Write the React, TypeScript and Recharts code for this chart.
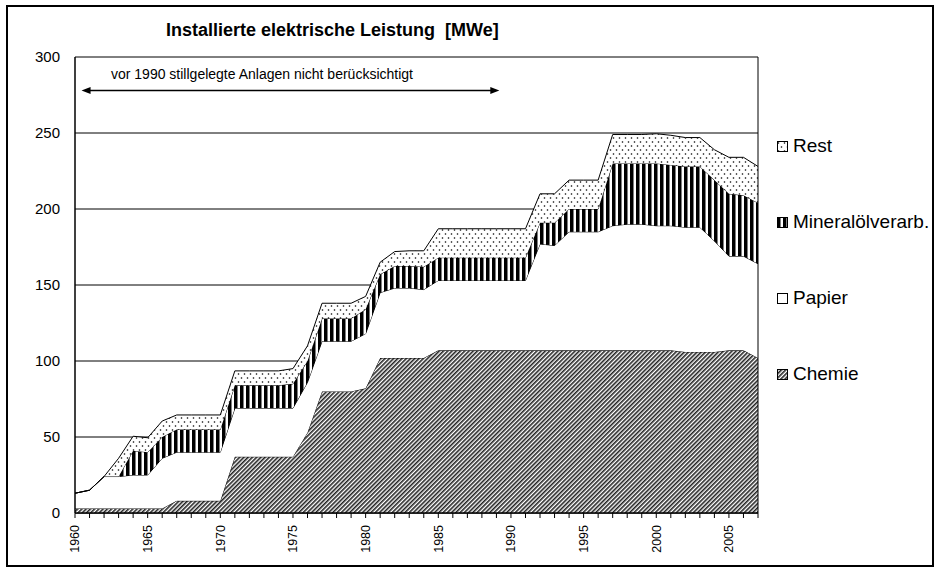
import React from "react";
import {
  AreaChart,
  Area,
  XAxis,
  YAxis,
  CartesianGrid,
  ReferenceLine,
  Legend,
} from "recharts";

// Jahre 1960 - 2007
const years = [
  1960, 1961, 1962, 1963, 1964, 1965, 1966, 1967, 1968, 1969, 1970, 1971,
  1972, 1973, 1974, 1975, 1976, 1977, 1978, 1979, 1980, 1981, 1982, 1983,
  1984, 1985, 1986, 1987, 1988, 1989, 1990, 1991, 1992, 1993, 1994, 1995,
  1996, 1997, 1998, 1999, 2000, 2001, 2002, 2003, 2004, 2005, 2006, 2007,
];

// MWe je Branche (gestapelt)
const chemie = [
  3, 3, 3, 3, 3, 3, 3, 8, 8, 8, 8, 37, 37, 37, 37, 37, 53, 80, 80, 80, 82,
  102, 102, 102, 102, 107, 107, 107, 107, 107, 107, 107, 107, 107, 107, 107,
  107, 107, 107, 107, 107, 107, 106, 106, 106, 107, 107, 102,
];
const papier = [
  10, 12, 21, 21, 22, 22, 33, 32, 32, 32, 32, 32, 32, 32, 32, 32, 33, 33, 33,
  33, 36, 43, 46, 46, 45, 46, 46, 46, 46, 46, 46, 46, 70, 69, 78, 78, 78, 82,
  83, 83, 82, 82, 82, 82, 73, 62, 62, 62,
];
const mineraloel = [
  0, 0, 0, 0, 16, 15, 14, 15, 15, 15, 15, 15, 15, 15, 15, 16, 14, 15, 15, 15,
  16, 12, 14.5, 14.5, 15, 15, 15, 15, 15, 15, 15, 15, 14, 15, 15, 15, 15, 41,
  40, 40, 41, 40, 40, 40, 40, 41, 40, 40,
];
const rest = [
  0, 0, 0, 12, 9.5, 9.5, 10.5, 9.5, 9.5, 9.5, 9.5, 9.5, 9.5, 9.5, 9.5, 10, 10,
  10, 10, 10, 8.5, 8, 9.5, 10, 10.5, 19, 19, 19, 19, 19, 19, 19, 19, 19, 19,
  19, 19, 19, 19, 19, 19.5, 19.5, 19, 19, 20, 24, 25, 24,
];

const yTicks = [0, 50, 100, 150, 200, 250, 300];
const labelYears = [1960, 1965, 1970, 1975, 1980, 1985, 1990, 1995, 2000, 2005];

const series = [
  { key: "chemie", name: "Chemie", fill: "url(#hatch)" },
  { key: "papier", name: "Papier", fill: "#ffffff" },
  { key: "mineral", name: "Mineralölverarb.", fill: "url(#stripes)" },
  { key: "rest", name: "Rest", fill: "url(#dots)" },
];

const data = years.map((year, i) => ({
  year,
  chemie: chemie[i],
  papier: papier[i],
  mineral: mineraloel[i],
  rest: rest[i],
}));

const FONT = "'Liberation Sans', Arial, sans-serif";

const YearTick = (props: any) => {
  const { x, y, payload } = props;
  if (!labelYears.includes(payload.value)) return <g />;
  return (
    <text
      x={x}
      y={y}
      transform={`rotate(-90, ${x}, ${y})`}
      textAnchor="end"
      dy="0.35em"
      fontSize={12.5}
      fontFamily={FONT}
      fill="#000">
      {payload.value}
    </text>
  );
};

const Arrow = (props: any) => {
  const { x1, y1, x2, y2 } = props;
  return (
    <g>
      <line x1={x1 + 6} y1={y1} x2={x2 - 6} y2={y2} stroke="#000" strokeWidth={1.5} />
      <polygon points={`${x1},${y1} ${x1 + 9},${y1 - 3.5} ${x1 + 9},${y1 + 3.5}`} fill="#000" />
      <polygon points={`${x2},${y2} ${x2 - 9},${y2 - 3.5} ${x2 - 9},${y2 + 3.5}`} fill="#000" />
    </g>
  );
};

const LegendBox = () => (
  <div style={{ fontFamily: FONT, fontSize: 19, color: "#000" }}>
    {[...series].reverse().map((s) => (
      <div
        key={s.key}
        style={{ display: "flex", alignItems: "center", height: 76 }}>
        <svg width={11} height={11} style={{ marginRight: 5 }}>
          <rect x={0.5} y={0.5} width={10} height={10} fill={s.fill} stroke="#000" />
        </svg>
        <span>{s.name}</span>
      </div>
    ))}
  </div>
);

export default function App() {
  return (
    <div style={{ position: "absolute", left: 0, top: 0, width: 939, height: 570, background: "#fff" }}>
      <div
        style={{
          position: "absolute",
          left: 166,
          top: 20,
          fontFamily: FONT,
          fontWeight: "bold",
          fontSize: 18,
          whiteSpace: "pre",
        }}>
        {"Installierte elektrische Leistung  [MWe]"}
      </div>
      <div
        style={{
          position: "absolute",
          left: 111,
          top: 66,
          fontFamily: FONT,
          fontSize: 14,
          whiteSpace: "pre",
        }}>
        vor 1990 stillgelegte Anlagen nicht berücksichtigt
      </div>
      <div style={{ position: "absolute", left: 0, top: 0 }}>
        <AreaChart
          width={939}
          height={570}
          data={data}
          margin={{ top: 57, right: 181, bottom: 0, left: 0 }}>
          <defs>
            <pattern id="hatch" width="3" height="3" patternUnits="userSpaceOnUse" patternTransform="rotate(45)">
              <rect width="3" height="3" fill="#fff" />
              <rect x="0" y="0" width="1.6" height="3" fill="#222" />
            </pattern>
            <pattern id="stripes" width="6" height="6" patternUnits="userSpaceOnUse">
              <rect width="6" height="6" fill="#fff" />
              <rect x="0" y="0" width="3.5" height="6" fill="#000" />
            </pattern>
            <pattern id="dots" width="6" height="8" patternUnits="userSpaceOnUse">
              <rect width="6" height="8" fill="#fff" />
              <circle cx="1.5" cy="2" r="0.8" fill="#000" />
              <circle cx="4.5" cy="6" r="0.8" fill="#000" />
            </pattern>
          </defs>
          <CartesianGrid vertical={false} stroke="#000" strokeWidth={1} />
          <XAxis
            dataKey="year"
            type="number"
            domain={[1960, 2007]}
            ticks={years}
            interval={0}
            height={57}
            tickSize={5}
            tickMargin={7}
            tick={<YearTick />}
            tickLine={{ stroke: "#000" }}
            axisLine={{ stroke: "#000", strokeWidth: 1.5 }}
          />
          <YAxis
            domain={[0, 300]}
            ticks={yTicks}
            width={75}
            tickLine={false}
            tickMargin={9}
            axisLine={{ stroke: "#000", strokeWidth: 1.5 }}
            tick={{ fontSize: 15, fontFamily: FONT, fill: "#000" }}
          />
          {series.map((s) => (
            <Area
              key={s.key}
              type="linear"
              dataKey={s.key}
              name={s.name}
              stackId="1"
              stroke="#000"
              strokeWidth={1}
              fill={s.fill}
              fillOpacity={1}
              dot={false}
              activeDot={false}
              isAnimationActive={false}
            />
          ))}
          <ReferenceLine x={2007} stroke="#000" strokeWidth={1} />
          <ReferenceLine
            segment={[
              { x: 1960.45, y: 278 },
              { x: 1989.2, y: 278 },
            ]}
            shape={<Arrow />}
          />
          <Legend
            layout="horizontal"
            align="center"
            verticalAlign="middle"
            content={<LegendBox />}
            wrapperStyle={{ position: "absolute", left: 777, top: 108, width: 160 }}
          />
        </AreaChart>
      </div>
      <svg
        width={939}
        height={570}
        style={{ position: "absolute", left: 0, top: 0, pointerEvents: "none" }}>
        <rect x={7} y={6} width={926} height={560} fill="none" stroke="#000" strokeWidth={2} />
      </svg>
    </div>
  );
}
